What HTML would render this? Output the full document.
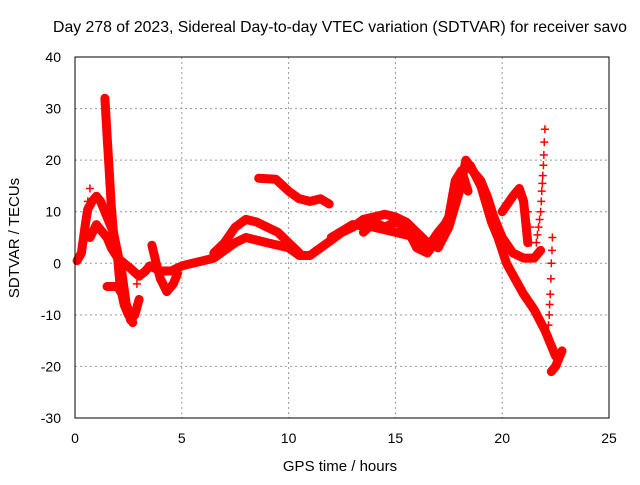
<!DOCTYPE html>
<html><head><meta charset="utf-8"><style>
body{margin:0;background:#fff}
svg{font-family:"Liberation Sans",sans-serif;font-size:14px}
</style></head><body>
<svg id="c" width="640" height="480">
<text x="340" y="32" text-anchor="middle" style="font-size:15.8px">Day 278 of 2023, Sidereal Day-to-day VTEC variation (SDTVAR) for receiver savo</text>
<text x="340" y="471" text-anchor="middle" style="font-size:15px">GPS time / hours</text>
<text transform="translate(19,238) rotate(-90)" text-anchor="middle" style="font-size:15px">SDTVAR / TECUs</text>
<g id="grid"></g><g id="marks"></g>
<rect x="75" y="57" width="534" height="361" fill="none" stroke="#000"/>
</svg>
<script>
const xTicks=[0,5,10,15,20,25];
const yTicks=[-30,-20,-10,0,10,20,30,40];
const sA=[[0.1,0.5],[0.3,2],[0.5,8],[0.6,10.5],[0.8,12],[1.0,13],[1.2,12],[1.5,9],[1.8,6],[2.0,2],[2.2,-2],[2.4,-8],[2.6,-11],[2.8,-10],[3.0,-7]];
const sB=[[0.7,5],[1.0,7.5],[1.2,6.5],[1.5,5],[1.7,3],[2.0,1],[2.3,0],[2.6,-1],[3.0,-2.5],[3.3,-1.5],[3.5,-0.5],[4.0,-1.5],[4.5,-1.5],[5,-0.5],[5.5,0],[6,0.5],[6.5,1],[7,2.5],[7.5,4],[8,5],[8.5,4.5],[9,4],[10,3],[10.5,1.5],[11,1.5],[11.5,3],[12,4.5],[12.5,6],[13,7],[13.5,8.5],[14,9],[14.5,9.5],[15,9],[15.5,8],[16,6],[16.5,4],[17,3],[17.5,7],[18,14],[18.3,20],[18.6,18],[19,16],[19.3,13],[19.6,9],[20,5],[20.5,2],[21,1],[21.5,1],[21.8,2.5]];
const sC=[[1.4,32],[1.5,25],[1.6,18],[1.7,11],[1.8,6],[2.0,1],[2.1,-4],[2.3,-8],[2.5,-10]];
const sD=[[1.5,-4.5],[2.0,-4.5],[2.2,-6],[2.5,-9],[2.7,-11.5]];
const sE=[[3.6,3.5],[3.8,0],[4.0,-3],[4.3,-5.5],[4.6,-4],[4.8,-2]];
const sF=[[6.5,2],[7,4],[7.5,7],[8,8.5],[8.5,8],[9,7],[9.5,6],[10,4],[10.5,2]];
const sG=[[8.6,16.5],[9.4,16.3],[10,14],[10.5,12.5],[11,12],[11.5,12.5],[11.9,11.5]];
const sH=[[12,5],[13,7.5],[14,7],[15,6],[16,5],[16.5,3],[17,6],[17.6,9],[18,16],[18.2,18],[18.5,19],[19,15],[19.5,8],[19.8,5],[20.2,0],[20.6,-3],[21,-6],[21.5,-9],[22,-13],[22.3,-16],[22.5,-18]];
const sI=[[20,10],[20.5,13],[20.8,14.5],[21.0,12],[21.2,4]];
const sJ=[[22.3,-21],[22.5,-20],[22.8,-17]];
const sL=[[13.5,6],[14,8],[14.5,7],[15,8],[15.5,7],[16,3],[16.5,2],[17,5],[17.5,9],[17.8,16],[18.1,18],[18.4,14]];
const pK=[[21.6,4],[21.65,5.5],[21.7,7],[21.75,8.5],[21.8,10],[21.83,12],[21.85,14],[21.88,15.5],[21.9,17],[21.93,19],[21.95,21],[21.97,23.5],[22.0,26],[22.35,5],[22.33,2.5],[22.3,0],[22.28,-3],[22.25,-6],[22.22,-8],[22.2,-10],[22.17,-12],[22.15,-14],[21.2,10],[21.3,7],[21.35,4],[0.7,14.5],[0.6,12],[0.55,10],[2.9,-4],[1.45,28],[1.55,21]];
const lines=[sA,sB,sC,sD,sE,sF,sG,sH,sI,sJ,sL];
const X=h=>75+h*21.36, Y=v=>57+(40-v)*5.157;
const NS='http://www.w3.org/2000/svg';
const g=document.getElementById('grid'),m=document.getElementById('marks');
function mk(tag,at,par){const e=document.createElementNS(NS,tag);for(const k in at)e.setAttribute(k,at[k]);par.appendChild(e);return e;}
xTicks.forEach(t=>{const x=X(t);
 if(t>0&&t<25){const l=mk('line',{x1:x,x2:x,y1:57,y2:418,stroke:'#999','stroke-dasharray':'2,3'},g);
 
 }
 const tx=mk('text',{x:x,y:443,'text-anchor':'middle'},g);tx.textContent=t;
 
 });
yTicks.forEach(t=>{const y=Y(t);
 if(t>-30&&t<40){const l=mk('line',{x1:75,x2:609,y1:y,y2:y,stroke:'#999','stroke-dasharray':'2,3'},g);
 
 }
 const tx=mk('text',{x:61,y:y+5,'text-anchor':'end'},g);tx.textContent=t;
 
 });
lines.forEach(s=>{const d=s.map((p,i)=>(i?'L':'M')+X(p[0]).toFixed(1)+' '+Y(p[1]).toFixed(1)).join('');
 const p=mk('path',{d:d,fill:'none',stroke:'#f00','stroke-width':9,'stroke-linejoin':'round','stroke-linecap':'round'},m);
 
 });
lines.concat([pK]).forEach(s=>s.forEach(q=>{const x=X(q[0]),y=Y(q[1]);
 const p=mk('path',{d:`M${x-4} ${y}H${x+4}M${x} ${y-4}V${y+4}`,stroke:'#f00','stroke-width':1.5},m);
 
 }));
</script>
</body></html>
